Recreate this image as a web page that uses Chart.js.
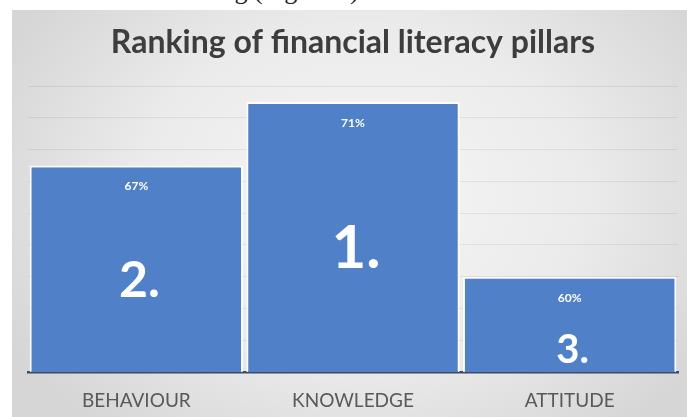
<!DOCTYPE html>
<html>
<head>
<meta charset="utf-8">
<script src="https://cdn.jsdelivr.net/npm/chart.js@4/dist/chart.umd.min.js"></script>
<style>
  html, body { margin: 0; padding: 0; background: #fff; }
  body { width: 687px; height: 417px; position: relative; overflow: hidden; }
  .page-line {
    position: absolute; left: 168px; top: -24px; white-space: nowrap;
    font-family: "Liberation Serif", serif; font-size: 26px; color: #222;
  }
  .panel {
    position: absolute; left: 12px; top: 10px; width: 675px; height: 407px;
    background: radial-gradient(ellipse 60% 75% at 52% 45%, #f6f6f6 0%, #ebebeb 55%, #d6d6d6 100%);
  }
</style>
</head>
<body>
<div class="page-line">ranking (Figure 2)</div>
<div class="panel"><canvas id="pillars" width="675" height="407"></canvas></div>
<script>
  // pillars, their share and their place in the ranking
  const pillars = ["BEHAVIOUR", "KNOWLEDGE", "ATTITUDE"];
  const shares = [67, 71, 60];
  const ranks = [2, 1, 3];
  const axisMin = 54;
  const axisMax = 72;
  const axisStep = 2;

  // rank number look: bigger for better rank, placed as share of bar height from top
  const rankFont = { 1: 60, 2: 50, 3: 40 };
  const rankDrop = { 1: 0.545, 2: 0.56, 3: 0.77 };

  const barLabels = {
    id: "barLabels",
    afterDraw(chart) {
      const ctx = chart.ctx;
      const meta = chart.getDatasetMeta(0);
      const yScale = chart.scales.y;
      const base = yScale.getPixelForValue(axisMin);
      ctx.save();
      ctx.fillStyle = "#ffffff";
      ctx.textAlign = "center";
      ctx.textBaseline = "middle";
      meta.data.forEach(function (bar, i) {
        const top = yScale.getPixelForValue(shares[i]);
        const h = base - top;
        ctx.font = "bold 12px Lato";
        ctx.fillText(shares[i] + "%", bar.x, top + 21);
        const r = ranks[i];
        ctx.font = "bold " + rankFont[r] + "px Lato";
        ctx.fillText(r + ".", bar.x + 3, top + h * rankDrop[r]);
      });
      ctx.restore();
    }
  };

  new Chart(document.getElementById("pillars"), {
    type: "bar",
    data: {
      labels: pillars,
      datasets: [{
        data: shares,
        backgroundColor: "#4f80c8",
        borderColor: "rgba(255,255,255,0.85)",
        borderWidth: { top: 2, left: 2, right: 2, bottom: 0 },
        borderSkipped: false,
        barPercentage: 1,
        categoryPercentage: 0.985
      }]
    },
    options: {
      responsive: false,
      animation: false,
      layout: { padding: { left: 16, right: 9, top: 0, bottom: 0 } },
      plugins: {
        legend: { display: false },
        tooltip: { enabled: false },
        title: {
          display: true,
          text: "Ranking of financial literacy pillars",
          color: "#3d3d3d",
          font: { family: "Lato", size: 32, weight: "bold" },
          padding: { top: 13, bottom: 24.6 }
        }
      },
      scales: {
        x: {
          afterFit(scale) { scale.height = 45; },
          grid: { display: false, drawTicks: false },
          border: { display: true, color: "#3c4a63", width: 2.5 },
          ticks: { color: "#595959", font: { family: "Lato", size: 19 }, padding: 17 }
        },
        y: {
          min: axisMin,
          max: axisMax,
          z: 1,
          afterFit(scale) { scale.width = 0; },
          ticks: { display: false, stepSize: axisStep },
          grid: { color: "rgba(0,0,0,0.07)", lineWidth: 1, drawTicks: false },
          border: { display: false }
        }
      }
    },
    plugins: [barLabels]
  });
</script>
</body>
</html>
